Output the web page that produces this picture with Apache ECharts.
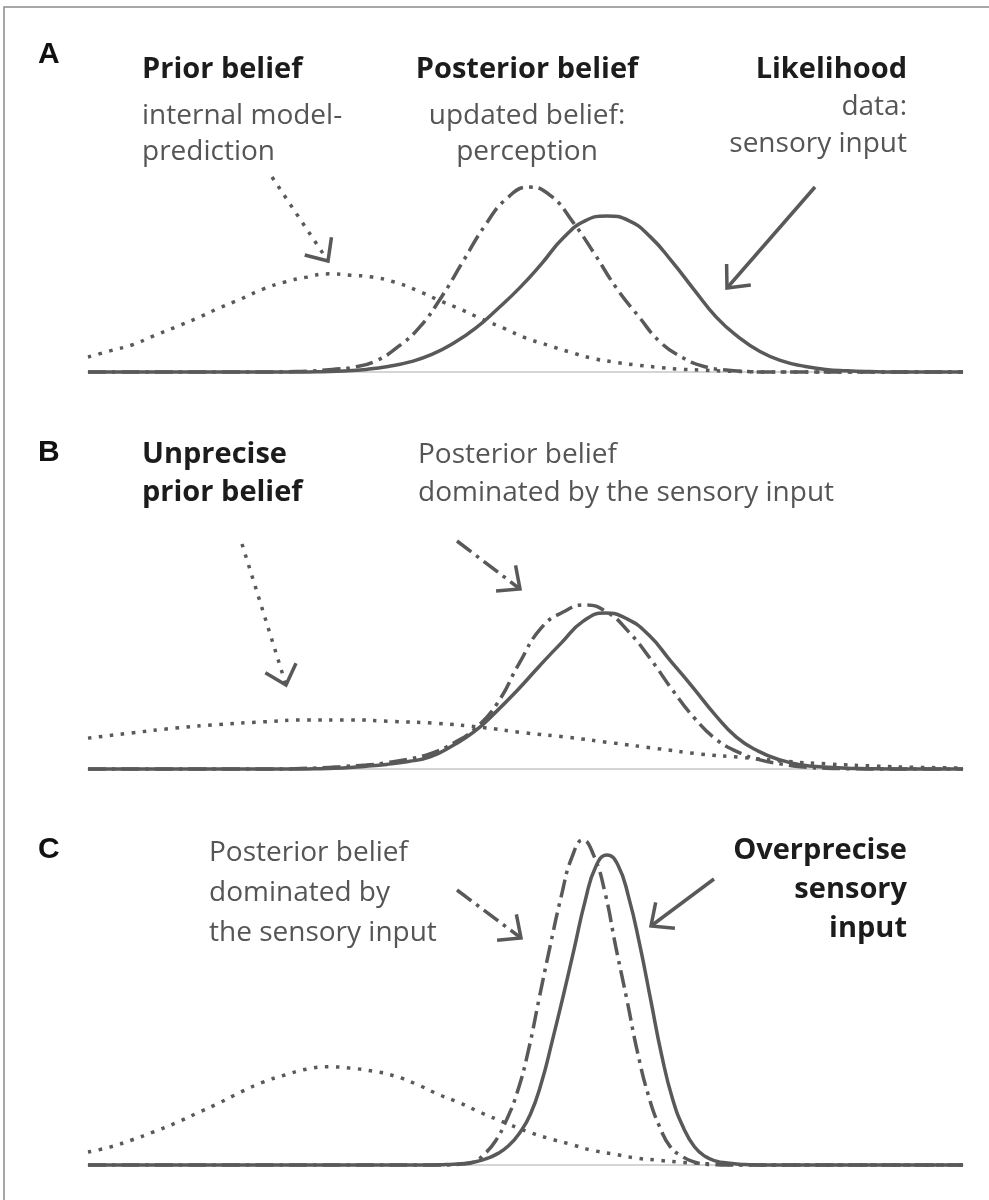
<!DOCTYPE html>
<html>
<head>
<meta charset="utf-8">
<title>Prior, likelihood and posterior</title>
<script src="https://cdn.jsdelivr.net/npm/echarts@6/dist/echarts.min.js"></script>
<style>
  html, body { margin: 0; padding: 0; background: #fff; }
  #chart { width: 989px; height: 1200px; }
</style>
</head>
<body>
<div id="chart"></div>
<script>
(function () {
  'use strict';

  // values: x on a 0-100 scale, y = curve height (100 = tallest peak)
  var priorA = [[0,4.6],[2.5,6.5],[5,8.3],[7.5,11.1],[10,13.8],[12.5,16.6],[15,19.7],[17.5,22.5],[20,25.5],[22.5,27.7],[25,29.2],[27.5,30.2],[30,29.8],[32.5,29.2],[35,27.7],[37.5,25.2],[40,22.2],[42.5,19.4],[45,16.3],[47.5,13.5],[50,10.5],[52.5,8.3],[55,6.2],[57.5,4.3],[60,3.1],[62.5,2.2],[65,1.5],[67.5,0.9],[70,0.6],[72.5,0.3],[75,0.15],[77.5,0],[100,0]];
  var posteriorA = [[0,0],[20.4,0],[22.9,0.1],[25.4,0.3],[27.9,0.8],[30.4,1.5],[32.9,3.4],[35.4,7.7],[37.9,13.8],[40.4,23.1],[42.9,34.2],[45.4,45.2],[47.9,53.5],[50.4,56.9],[52.9,54.2],[55.4,46.2],[57.9,36.3],[60.4,25.8],[62.9,17.2],[65.4,9.2],[67.9,4.5],[70.4,1.7],[72.9,0.6],[75.4,0.15],[77.9,0],[100,0]];
  var likelihoodA = [[0,0],[24.3,0],[26.8,0.1],[29.3,0.3],[31.8,0.8],[34.3,1.7],[36.8,3.1],[39.3,5.4],[41.8,8.9],[44.3,13.5],[46.8,19.4],[49.3,25.8],[51.8,33.2],[54.3,41.2],[56.8,46.5],[59.3,48.0],[61.8,46.6],[64.3,41.5],[66.8,33.8],[69.3,25.2],[71.8,16.9],[74.3,10.8],[76.8,6.3],[79.3,3.4],[81.8,1.8],[84.3,0.8],[86.8,0.4],[89.3,0.15],[91.8,0],[100,0]];

  var priorB = [[0,9.5],[5,11.1],[10,12.6],[15,13.7],[20,14.5],[25,15.1],[30,15.1],[35,14.6],[40,14.0],[45,12.8],[50,11.1],[55,9.7],[60,8.0],[65,6.3],[70,4.6],[75,3.5],[80,2.3],[85,1.5],[90,0.9],[95,0.5],[100,0.3]];
  var posteriorB = [[0,0],[21.8,0],[24.3,0.15],[26.8,0.4],[29.3,0.8],[31.8,1.2],[34.3,2.0],[36.8,3.1],[39.3,4.9],[41.8,8.0],[44.3,12.6],[46.8,20.3],[49.3,32.6],[51.8,43.4],[54.3,48.3],[56.8,50.5],[59.3,48.3],[61.8,42.2],[64.3,33.8],[66.8,24.3],[69.3,15.7],[71.8,9.1],[74.3,5.2],[76.8,2.8],[79.3,1.5],[81.8,0.6],[84.3,0.25],[86.8,0.1],[89.3,0],[100,0]];
  var likelihoodB = [[0,0],[24.1,0],[26.6,0.1],[29.1,0.3],[31.6,0.8],[34.1,1.4],[36.6,2.3],[39.1,3.7],[41.6,7.1],[44.1,11.4],[46.6,17.5],[49.1,24.3],[51.6,31.7],[54.1,38.8],[56.6,45.5],[59.1,48.0],[61.6,46.2],[64.1,41.2],[66.6,33.2],[69.1,25.2],[71.6,16.9],[74.1,9.8],[76.6,5.5],[79.1,2.8],[81.6,1.2],[84.1,0.6],[86.6,0.25],[89.1,0.1],[91.6,0],[100,0]];

  var priorC = [[0,4.0],[2.5,5.5],[5,7.7],[7.5,10.2],[10,12.9],[12.5,16.0],[15,19.1],[17.5,22.5],[20,25.5],[22.5,27.7],[25,29.5],[27.5,30.2],[30,29.8],[32.5,28.9],[35,27.4],[37.5,24.9],[40,21.8],[42.5,19.1],[45,16.0],[47.5,13.2],[50,10.5],[52.5,8.3],[55,6.5],[57.5,4.6],[60,3.4],[62.5,2.2],[65,1.5],[67.5,0.9],[70,0.5],[72.5,0.2],[75,0.1],[77.5,0],[100,0]];
  var posteriorC = [[0,0],[40.32,0],[41.57,0.1],[42.82,0.3],[44.07,0.9],[45.32,3.4],[46.57,7.4],[47.82,13.8],[49.07,22.5],[50.32,35.1],[51.57,51.4],[52.82,67.4],[54.07,82.5],[55.32,94.8],[56.57,100],[57.82,95.1],[59.07,84.0],[60.32,67.1],[61.57,51.1],[62.82,34.5],[64.07,21.2],[65.32,11.8],[66.57,5.5],[67.82,2.8],[69.07,1.1],[70.32,0.3],[71.57,0.1],[72.82,0],[100,0]];
  var likelihoodC = [[0,0],[39.31,0],[40.56,0.1],[41.81,0.25],[43.06,0.5],[44.31,1.0],[45.56,2.0],[46.81,3.5],[48.06,5.9],[49.31,9.8],[50.56,15.6],[51.81,25.2],[53.06,38.2],[54.31,52.0],[55.56,66.5],[56.81,81.2],[58.06,92.0],[59.31,95.4],[60.56,92.3],[61.81,82.2],[63.06,67.7],[64.31,50.8],[65.56,33.8],[66.81,20.3],[68.06,11.4],[69.31,5.6],[70.56,2.6],[71.81,1.2],[73.06,0.6],[74.31,0.25],[75.56,0.1],[76.81,0],[100,0]];

  var INK = '#595959';
  var DOT = [3.5, 7.5];
  var DASHDOT = [18, 6, 3.5, 6];
  var BOLD = 'bold 29px "Open Sans"';
  var LIGHT = '28px "Open Sans"';
  var LETTER = 'bold 30px "Liberation Sans"';

  var panels = [
    { top: 47, prior: priorA, posterior: posteriorA, likelihood: likelihoodA },
    { top: 444, prior: priorB, posterior: posteriorB, likelihood: likelihoodB },
    { top: 840, prior: priorC, posterior: posteriorC, likelihood: likelihoodC }
  ];

  var grids = [], xAxes = [], yAxes = [], series = [];
  panels.forEach(function (p, i) {
    grids.push({ left: 88, width: 875, top: p.top, height: 325 });
    xAxes.push({
      type: 'value', gridIndex: i, min: 0, max: 100,
      axisLine: { show: true, lineStyle: { color: '#c8c8c8', width: 1.5 } },
      axisTick: { show: false }, axisLabel: { show: false }, splitLine: { show: false }
    });
    yAxes.push({ type: 'value', gridIndex: i, min: 0, max: 100, show: false });
    [
      { data: p.prior, type: DOT },
      { data: p.posterior, type: DASHDOT },
      { data: p.likelihood, type: 'solid' }
    ].forEach(function (s) {
      series.push({
        type: 'line', xAxisIndex: i, yAxisIndex: i, data: s.data,
        smooth: 0.5, symbol: 'none', clip: false, silent: true,
        lineStyle: { color: INK, width: 3.5, type: s.type }
      });
    });
  });

  function text(str, x, baseline, font, fill, align, size) {
    return {
      type: 'text', x: x, y: baseline - 0.388 * size, silent: true,
      style: { text: str, font: font, fill: fill, align: align || 'left', verticalAlign: 'middle' }
    };
  }
  function letter(str, baseline) {
    return {
      type: 'text', x: 38, y: baseline - 0.347 * 30, silent: true,
      style: { text: str, font: LETTER, fill: '#111', align: 'left', verticalAlign: 'middle' }
    };
  }
  function arrow(x1, y1, x2, y2, dash) {
    var dx = x1 - x2, dy = y1 - y2, len = Math.sqrt(dx * dx + dy * dy);
    var ux = dx / len, uy = dy / len, a = 42 * Math.PI / 180, l = 24;
    function rot(s) {
      return [x2 + l * (ux * Math.cos(s * a) - uy * Math.sin(s * a)),
              y2 + l * (ux * Math.sin(s * a) + uy * Math.cos(s * a))];
    }
    return [
      { type: 'line', silent: true, shape: { x1: x1, y1: y1, x2: x2, y2: y2 },
        style: { stroke: INK, lineWidth: 3.5, lineDash: dash || null } },
      { type: 'polyline', silent: true, shape: { points: [rot(1), [x2, y2], rot(-1)] },
        style: { stroke: INK, lineWidth: 3.5, fill: null } }
    ];
  }

  var DARK = '#1c1c1c', GREY = '#555';
  var graphics = [
    { type: 'rect', silent: true, shape: { x: 4, y: 7, width: 1000, height: 1210 },
      style: { fill: null, stroke: '#8a8a8a', lineWidth: 1.5 } },
    letter('A', 65), letter('B', 463), letter('C', 860),
    // panel A
    text('Prior belief', 142, 81, BOLD, DARK, 'left', 29),
    text('internal model-', 142, 127, LIGHT, GREY, 'left', 28),
    text('prediction', 142, 163, LIGHT, GREY, 'left', 28),
    text('Posterior belief', 527, 81, BOLD, DARK, 'center', 29),
    text('updated belief:', 527, 127, LIGHT, GREY, 'center', 28),
    text('perception', 527, 163, LIGHT, GREY, 'center', 28),
    text('Likelihood', 907, 81, BOLD, DARK, 'right', 29),
    text('data:', 907, 118, LIGHT, GREY, 'right', 28),
    text('sensory input', 907, 155, LIGHT, GREY, 'right', 28),
    // panel B
    text('Unprecise', 142, 466, BOLD, DARK, 'left', 29),
    text('prior belief', 142, 504, BOLD, DARK, 'left', 29),
    text('Posterior belief', 418, 466, LIGHT, GREY, 'left', 28),
    text('dominated by the sensory input', 418, 504, LIGHT, GREY, 'left', 28),
    // panel C
    text('Posterior belief', 209, 864, LIGHT, GREY, 'left', 28),
    text('dominated by', 209, 904, LIGHT, GREY, 'left', 28),
    text('the sensory input', 209, 944, LIGHT, GREY, 'left', 28),
    text('Overprecise', 907, 862, BOLD, DARK, 'right', 29),
    text('sensory', 907, 901, BOLD, DARK, 'right', 29),
    text('input', 907, 940, BOLD, DARK, 'right', 29)
  ]
    .concat(arrow(272, 177, 328, 261, DOT))
    .concat(arrow(815, 187, 727, 288))
    .concat(arrow(242, 544, 286, 685, DOT))
    .concat(arrow(457, 541, 520, 589, DASHDOT))
    .concat(arrow(457, 890, 521, 938, DASHDOT))
    .concat(arrow(714, 879, 651, 926));

  var chart = echarts.init(document.getElementById('chart'), null, { renderer: 'canvas' });
  chart.setOption({
    animation: false,
    backgroundColor: '#fff',
    grid: grids,
    xAxis: xAxes,
    yAxis: yAxes,
    series: series,
    graphic: graphics
  });
})();
</script>
</body>
</html>
